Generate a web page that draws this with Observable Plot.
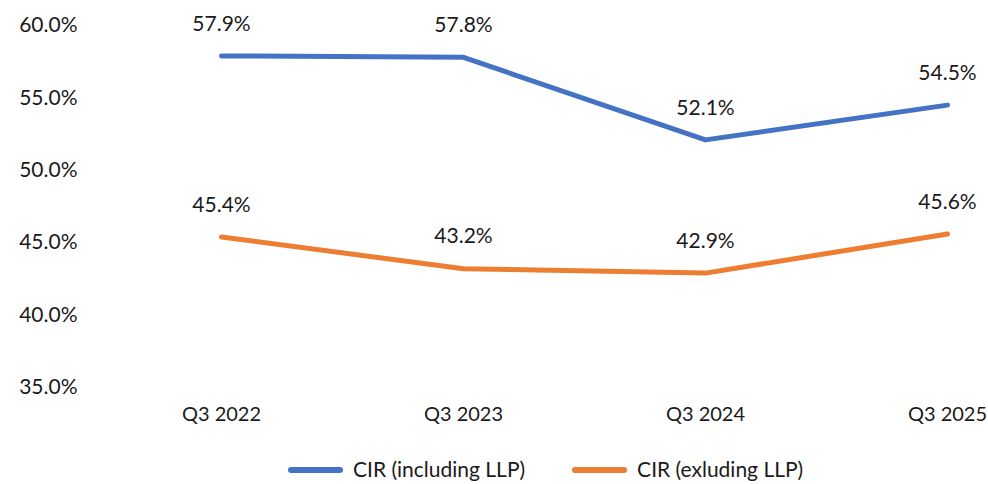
<!DOCTYPE html>
<html>
<head>
<meta charset="utf-8">
<script src="https://cdn.jsdelivr.net/npm/d3@7"></script>
<script src="https://cdn.jsdelivr.net/npm/@observablehq/plot@0.6"></script>
<style>
  html, body { margin: 0; padding: 0; background: #fff; }
  body { width: 988px; height: 484px; overflow: hidden; font-family: Lato, "Open Sans", sans-serif; position: relative; }
  #legend { position: absolute; left: 288px; top: 455px; display: flex; align-items: center; height: 28px; font-size: 21px; line-height: 28px; color: #1a1a1a; }
  .item { display: flex; align-items: center; margin-right: 47px; }
  .sw { width: 55px; height: 6px; border-radius: 3px; margin-right: 10px; margin-top: 1px; }
</style>
</head>
<body>
<div id="chart"></div>
<div id="legend"></div>
<script>
const periods = ["Q3 2022", "Q3 2023", "Q3 2024", "Q3 2025"];
const seriesNames = ["CIR (including LLP)", "CIR (exluding LLP)"];
const cirIncl = [57.9, 57.8, 52.1, 54.5];
const cirExcl = [45.4, 43.2, 42.9, 45.6];
const yTicks = [35, 40, 45, 50, 55, 60];
const colors = ["#4472C4", "#ED7D31"];

const data = [];
periods.forEach((p, i) => {
  data.push({period: p, series: seriesNames[0], value: cirIncl[i]});
  data.push({period: p, series: seriesNames[1], value: cirExcl[i]});
});

const chart = Plot.plot({
  width: 988,
  height: 445,
  marginLeft: 220,
  marginRight: 40,
  marginTop: 25,
  marginBottom: 58,
  style: {fontFamily: "Lato, 'Open Sans', sans-serif", fontSize: "21px", color: "#1a1a1a", background: "#fff"},
  x: {type: "point", domain: periods, padding: 0, label: null},
  y: {domain: [35, 60], label: null},
  color: {domain: seriesNames, range: colors},
  marks: [
    Plot.axisY({ticks: yTicks, tickSize: 0, tickPadding: 143, tickFormat: d => d.toFixed(1) + "%", label: null, fontSize: 21}),
    Plot.axisX({tickSize: 0, tickPadding: 19, label: null, fontSize: 20}),
    Plot.line(data, {x: "period", y: "value", z: "series", stroke: "series", strokeWidth: 5, strokeLinecap: "round", strokeLinejoin: "round"}),
    Plot.text(data, {x: "period", y: "value", text: d => d.value.toFixed(1) + "%", dy: -32, fill: "#1a1a1a", fontSize: 21})
  ]
});
document.getElementById("chart").appendChild(chart);

const legend = document.getElementById("legend");
seriesNames.forEach((n, i) => {
  const it = document.createElement("div");
  it.className = "item";
  const sw = document.createElement("div");
  sw.className = "sw";
  sw.style.background = colors[i];
  const t = document.createElement("span");
  t.textContent = n;
  it.appendChild(sw); it.appendChild(t);
  legend.appendChild(it);
});
</script>
</body>
</html>
